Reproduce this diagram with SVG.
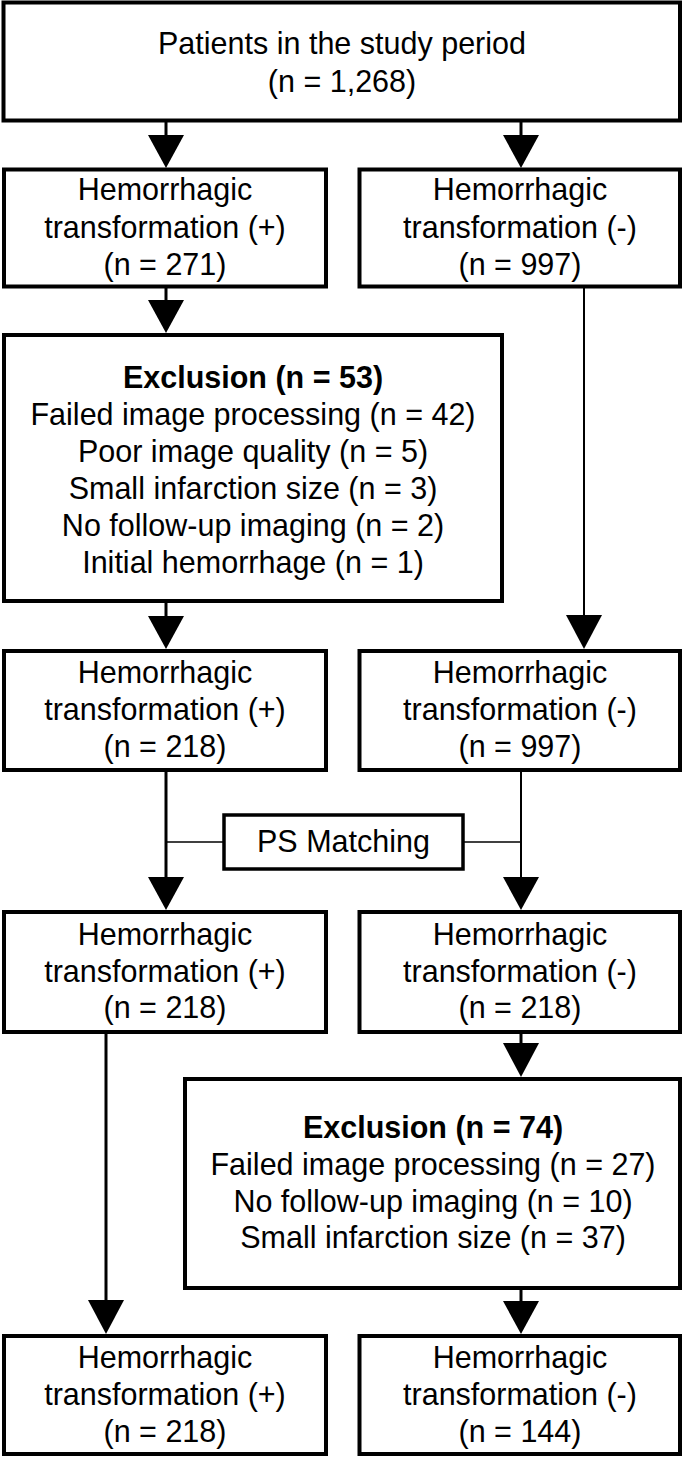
<svg xmlns="http://www.w3.org/2000/svg" width="685" height="1460" viewBox="0 0 685 1460">
<style>
.box{fill:#fff;stroke:#000;stroke-width:4}
.ps{fill:#fff;stroke:#000;stroke-width:3.5}
text{font-family:"Liberation Sans",Arial,sans-serif;font-size:30.5px;fill:#000;text-anchor:middle}
.b{font-weight:bold}
.sh{stroke:#000;stroke-width:3;fill:none}
.th{stroke:#000;stroke-width:2;fill:none}
.hz{stroke:#000;stroke-width:1.5;fill:none}
.ah{fill:#000}
</style>
<rect width="685" height="1460" fill="#fff"/>
<g id="connectors">
<line class="sh" x1="166" y1="122" x2="166" y2="137"/>
<polygon class="ah" points="148,135 184,135 166,168"/>
<line class="sh" x1="521" y1="122" x2="521" y2="137"/>
<polygon class="ah" points="503,135 539,135 521,168"/>
<line class="sh" x1="166" y1="288" x2="166" y2="302"/>
<polygon class="ah" points="148,300 184,300 166,333"/>
<line class="th" x1="584" y1="288" x2="584" y2="617"/>
<polygon class="ah" points="566,615 602,615 584,649"/>
<line class="sh" x1="166" y1="602" x2="166" y2="618"/>
<polygon class="ah" points="148,616 184,616 166,649"/>
<line class="sh" x1="166" y1="771" x2="166" y2="879"/>
<polygon class="ah" points="148,877 184,877 166,910"/>
<line class="th" x1="521" y1="771" x2="521" y2="879"/>
<polygon class="ah" points="503,877 539,877 521,910"/>
<line class="hz" x1="166" y1="842" x2="224" y2="842"/>
<line class="hz" x1="463" y1="842" x2="521" y2="842"/>
<line class="sh" x1="106" y1="1033" x2="106" y2="1302"/>
<polygon class="ah" points="88,1300 124,1300 106,1334"/>
<line class="sh" x1="521" y1="1033" x2="521" y2="1045"/>
<polygon class="ah" points="503,1043 539,1043 521,1077"/>
<line class="sh" x1="521" y1="1289" x2="521" y2="1303"/>
<polygon class="ah" points="503,1301 539,1301 521,1334"/>
</g>
<g id="n-patients">
<rect class="box" x="3.5" y="2.5" width="676.5" height="118"/>
<text x="342" y="54">Patients in the study period</text>
<text x="342" y="92">(n = 1,268)</text>
</g>
<g id="n-ht-pos-1">
<rect class="box" x="4" y="169.5" width="322" height="117"/>
<text x="165" y="200">Hemorrhagic</text>
<text x="165" y="238">transformation (+)</text>
<text x="165" y="275">(n = 271)</text>
</g>
<g id="n-ht-neg-1">
<rect class="box" x="359.5" y="169.5" width="320.5" height="117"/>
<text x="520" y="200">Hemorrhagic</text>
<text x="520" y="238">transformation (-)</text>
<text x="520" y="275">(n = 997)</text>
</g>
<g id="n-exclusion-1">
<rect class="box" x="4" y="335" width="498" height="266"/>
<text class="b" x="253" y="388">Exclusion (n = 53)</text>
<text x="253" y="425">Failed image processing (n = 42)</text>
<text x="253" y="462">Poor image quality (n = 5)</text>
<text x="253" y="499">Small infarction size (n = 3)</text>
<text x="253" y="536">No follow-up imaging (n = 2)</text>
<text x="253" y="573">Initial hemorrhage (n = 1)</text>
</g>
<g id="n-ht-pos-2">
<rect class="box" x="4" y="651" width="322" height="119"/>
<text x="165" y="683">Hemorrhagic</text>
<text x="165" y="720">transformation (+)</text>
<text x="165" y="757">(n = 218)</text>
</g>
<g id="n-ht-neg-2">
<rect class="box" x="359.5" y="651" width="320.5" height="119"/>
<text x="520" y="683">Hemorrhagic</text>
<text x="520" y="720">transformation (-)</text>
<text x="520" y="757">(n = 997)</text>
</g>
<g id="n-ps">
<rect class="ps" x="224" y="815" width="239" height="54"/>
<text x="343.5" y="852">PS Matching</text>
</g>
<g id="n-ht-pos-3">
<rect class="box" x="4" y="912" width="322" height="120"/>
<text x="165" y="945">Hemorrhagic</text>
<text x="165" y="982">transformation (+)</text>
<text x="165" y="1018">(n = 218)</text>
</g>
<g id="n-ht-neg-3">
<rect class="box" x="359.5" y="912" width="320.5" height="120"/>
<text x="520" y="945">Hemorrhagic</text>
<text x="520" y="982">transformation (-)</text>
<text x="520" y="1018">(n = 218)</text>
</g>
<g id="n-exclusion-2">
<rect class="box" x="185" y="1079" width="495" height="209"/>
<text class="b" x="433" y="1138">Exclusion (n = 74)</text>
<text x="433" y="1175">Failed image processing (n = 27)</text>
<text x="433" y="1212">No follow-up imaging (n = 10)</text>
<text x="433" y="1248">Small infarction size (n = 37)</text>
</g>
<g id="n-ht-pos-4">
<rect class="box" x="4" y="1336" width="322" height="118"/>
<text x="165" y="1368">Hemorrhagic</text>
<text x="165" y="1405">transformation (+)</text>
<text x="165" y="1442">(n = 218)</text>
</g>
<g id="n-ht-neg-4">
<rect class="box" x="359.5" y="1336" width="320.5" height="118"/>
<text x="520" y="1368">Hemorrhagic</text>
<text x="520" y="1405">transformation (-)</text>
<text x="520" y="1442">(n = 144)</text>
</g>
</svg>
